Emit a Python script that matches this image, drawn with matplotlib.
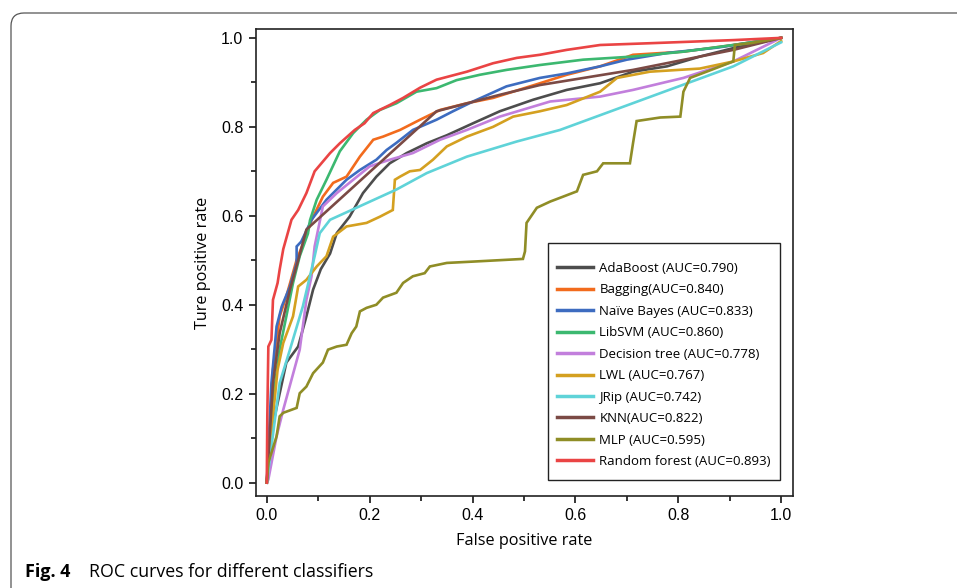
import matplotlib
matplotlib.use("Agg")
import matplotlib.pyplot as plt
from matplotlib.patches import FancyBboxPatch, Rectangle
from matplotlib.ticker import MultipleLocator

labels = ["AdaBoost (AUC=0.790)", "Bagging(AUC=0.840)", "Naïve Bayes (AUC=0.833)",
          "LibSVM (AUC=0.860)", "Decision tree (AUC=0.778)", "LWL (AUC=0.767)",
          "JRip (AUC=0.742)", "KNN(AUC=0.822)", "MLP (AUC=0.595)",
          "Random forest (AUC=0.893)"]
colors = ["#4d4d4d", "#f26b1d", "#3d6cc0", "#3cb870", "#c27fdc", "#d4a020",
          "#5fd3d8", "#7b4a45", "#8f8d26", "#ea4444"]

ada_x = [0, 0.01, 0.038, 0.061, 0.077, 0.09, 0.105, 0.123, 0.136, 0.161, 0.187, 0.213, 0.239, 0.272, 0.311, 0.35, 0.401, 0.453, 0.518, 0.583, 0.648, 0.712, 0.778, 0.842, 0.907, 1.0]
ada_y = [0, 0.12, 0.27, 0.306, 0.374, 0.434, 0.48, 0.515, 0.561, 0.598, 0.651, 0.688, 0.718, 0.741, 0.763, 0.781, 0.808, 0.835, 0.861, 0.883, 0.898, 0.924, 0.936, 0.958, 0.977, 1.0]

bag_x = [0, 0.006, 0.012, 0.025, 0.038, 0.058, 0.075, 0.087, 0.109, 0.129, 0.155, 0.181, 0.207, 0.226, 0.259, 0.298, 0.337, 0.389, 0.44, 0.531, 0.583, 0.648, 0.712, 0.81, 0.907, 1.0]
bag_y = [0, 0.12, 0.254, 0.374, 0.419, 0.501, 0.55, 0.59, 0.643, 0.674, 0.688, 0.733, 0.771, 0.778, 0.793, 0.816, 0.838, 0.853, 0.865, 0.898, 0.917, 0.936, 0.962, 0.969, 0.984, 1.0]

nb_x = [0, 0.004, 0.009, 0.019, 0.029, 0.045, 0.058, 0.058, 0.067, 0.087, 0.116, 0.155, 0.181, 0.213, 0.233, 0.252, 0.284, 0.33, 0.362, 0.401, 0.466, 0.531, 0.583, 0.648, 0.70, 0.778, 0.875, 1.0]
nb_y = [0, 0.1, 0.224, 0.351, 0.396, 0.441, 0.494, 0.531, 0.542, 0.591, 0.636, 0.681, 0.703, 0.726, 0.748, 0.764, 0.793, 0.816, 0.835, 0.857, 0.891, 0.91, 0.92, 0.936, 0.951, 0.966, 0.978, 1.0]

svm_x = [0, 0.005, 0.012, 0.025, 0.038, 0.051, 0.064, 0.08, 0.084, 0.097, 0.116, 0.142, 0.168, 0.194, 0.22, 0.252, 0.291, 0.33, 0.369, 0.414, 0.466, 0.531, 0.615, 0.712, 0.81, 0.907, 1.0]
svm_y = [0, 0.08, 0.186, 0.30, 0.374, 0.449, 0.509, 0.56, 0.59, 0.636, 0.681, 0.745, 0.786, 0.816, 0.838, 0.853, 0.879, 0.887, 0.905, 0.917, 0.928, 0.939, 0.951, 0.958, 0.969, 0.984, 1.0]

dt_x = [0, 0.003, 0.019, 0.032, 0.064, 0.077, 0.087, 0.093, 0.109, 0.136, 0.168, 0.20, 0.239, 0.284, 0.337, 0.389, 0.453, 0.551, 0.648, 0.712, 0.81, 0.907, 1.0]
dt_y = [0, 0.007, 0.104, 0.164, 0.299, 0.411, 0.464, 0.531, 0.621, 0.651, 0.681, 0.711, 0.726, 0.741, 0.771, 0.793, 0.823, 0.857, 0.868, 0.883, 0.91, 0.947, 1.0]

lwl_x = [0, 0.012, 0.021, 0.032, 0.051, 0.061, 0.077, 0.097, 0.116, 0.129, 0.155, 0.194, 0.22, 0.245, 0.249, 0.259, 0.278, 0.298, 0.323, 0.35, 0.389, 0.44, 0.479, 0.531, 0.583, 0.648, 0.681, 0.745, 0.842, 0.907, 0.965, 1.0]
lwl_y = [0, 0.149, 0.254, 0.314, 0.374, 0.441, 0.456, 0.486, 0.509, 0.553, 0.576, 0.584, 0.598, 0.613, 0.681, 0.688, 0.70, 0.703, 0.726, 0.756, 0.778, 0.80, 0.823, 0.835, 0.849, 0.879, 0.91, 0.924, 0.931, 0.947, 0.966, 0.993]

jrip_x = [0, 0.025, 0.045, 0.07, 0.093, 0.103, 0.123, 0.252, 0.311, 0.389, 0.486, 0.57, 0.907, 1.0]
jrip_y = [0, 0.224, 0.299, 0.396, 0.509, 0.561, 0.591, 0.659, 0.696, 0.733, 0.767, 0.793, 0.936, 0.99]

knn_x = [0, 0.012, 0.025, 0.045, 0.061, 0.077, 0.33, 0.453, 0.531, 0.712, 0.907, 1.0]
knn_y = [0, 0.224, 0.336, 0.434, 0.50, 0.569, 0.835, 0.872, 0.894, 0.928, 0.973, 1.0]

mlp_x = [0, 0.003, 0.019, 0.025, 0.032, 0.058, 0.064, 0.077, 0.09, 0.109, 0.119, 0.136, 0.155, 0.165, 0.174, 0.181, 0.194, 0.213, 0.226, 0.252, 0.265, 0.284, 0.307, 0.317, 0.35, 0.401, 0.466, 0.498, 0.502, 0.505, 0.525, 0.551, 0.576, 0.603, 0.615, 0.642, 0.654, 0.706, 0.712, 0.719, 0.765, 0.804, 0.81, 0.823, 0.855, 0.907, 0.91, 0.94, 1.0]
mlp_y = [0, 0.045, 0.104, 0.149, 0.157, 0.168, 0.201, 0.216, 0.246, 0.27, 0.299, 0.306, 0.31, 0.336, 0.351, 0.385, 0.393, 0.40, 0.416, 0.427, 0.449, 0.464, 0.471, 0.486, 0.494, 0.497, 0.501, 0.503, 0.52, 0.584, 0.618, 0.632, 0.643, 0.655, 0.692, 0.70, 0.718, 0.718, 0.763, 0.813, 0.821, 0.823, 0.879, 0.91, 0.924, 0.947, 0.984, 0.988, 1.0]

rf_x = [0, 0.0, 0.001, 0.003, 0.009, 0.012, 0.021, 0.025, 0.032, 0.048, 0.061, 0.077, 0.093, 0.123, 0.142, 0.171, 0.19, 0.207, 0.239, 0.265, 0.298, 0.33, 0.389, 0.44, 0.486, 0.531, 0.583, 0.648, 0.745, 0.907, 1.0]
rf_y = [0, 0.007, 0.149, 0.306, 0.321, 0.411, 0.449, 0.479, 0.525, 0.591, 0.613, 0.651, 0.70, 0.741, 0.763, 0.793, 0.808, 0.831, 0.849, 0.865, 0.888, 0.906, 0.924, 0.943, 0.955, 0.962, 0.973, 0.984, 0.988, 0.995, 1.0]

series = [(ada_x, ada_y), (bag_x, bag_y), (nb_x, nb_y), (svm_x, svm_y), (dt_x, dt_y),
          (lwl_x, lwl_y), (jrip_x, jrip_y), (knn_x, knn_y), (mlp_x, mlp_y), (rf_x, rf_y)]

fig = plt.figure(figsize=(9.57, 5.88), dpi=100)
ax = fig.add_axes([0.2675, 0.1565, 0.5611, 0.7942])

for (xs, ys), lab, col in zip(series, labels, colors):
    ax.plot(xs, ys, color=col, lw=1.9, label=lab, solid_joinstyle="miter")

ax.set_xlim(-0.021, 1.023)
ax.set_ylim(-0.03, 1.02)
ax.xaxis.set_major_locator(MultipleLocator(0.2))
ax.xaxis.set_minor_locator(MultipleLocator(0.1))
ax.yaxis.set_major_locator(MultipleLocator(0.2))
ax.yaxis.set_minor_locator(MultipleLocator(0.1))
ax.tick_params(which="major", direction="out", length=5, width=1.1,
               labelsize=11.5, pad=4)
ax.tick_params(which="minor", direction="out", length=3.5, width=1.1)
for lbl in ax.get_xticklabels() + ax.get_yticklabels():
    lbl.set_fontfamily("Liberation Sans")
for sp in ax.spines.values():
    sp.set_linewidth(1.2)
    sp.set_color("#222222")

ax.set_xlabel("False positive rate", fontfamily="Open Sans", fontsize=11.7, labelpad=7)
ax.set_ylabel("Ture positive rate", fontfamily="Open Sans", fontsize=11.7, labelpad=7)

# legend frame drawn separately
frame = Rectangle((0.544, 0.034), 0.432, 0.508, transform=ax.transAxes,
                  fill=True, facecolor="white", edgecolor="#222222", lw=1.0, zorder=4)
ax.add_patch(frame)
leg = ax.legend(loc="upper left", bbox_to_anchor=(0.5484, 0.5152),
                prop={"family": "Open Sans", "size": 9.5},
                frameon=False, handlelength=2.7, handletextpad=0.5,
                labelspacing=0.64, borderpad=0.5, borderaxespad=0)
leg.set_zorder(5)
for h in leg.get_lines():
    h.set_linewidth(2.5)

# figure border with rounded corner
border = FancyBboxPatch((0.11, -1.0), 12.0, 5.75 + 1.0,
                        boxstyle="round,pad=0,rounding_size=0.13",
                        transform=fig.dpi_scale_trans, fill=False,
                        edgecolor="#555555", lw=0.9, clip_on=False)
fig.patches.append(border)

fig.text(25 / 957, 1 - 572 / 588, "Fig. 4", fontfamily="Open Sans", fontweight="bold",
         fontsize=13, va="center", ha="left")
fig.text(89 / 957, 1 - 572 / 588, "ROC curves for different classifiers",
         fontfamily="Open Sans", fontsize=12.8, va="center", ha="left")

fig.savefig("out.png", dpi=100)
